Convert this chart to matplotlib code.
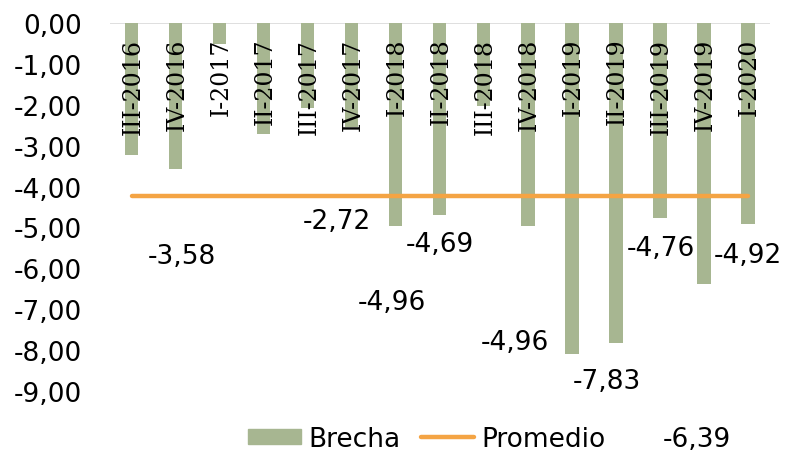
import numpy as np
import matplotlib.pyplot as plt
from matplotlib.patches import Patch
from matplotlib.lines import Line2D

categories = ['III-2016', 'IV-2016', 'I-2017', 'II-2017', 'III-2017', 'IV-2017',
              'I-2018', 'II-2018', 'III-2018', 'IV-2018', 'I-2019', 'II-2019',
              'III-2019', 'IV-2019', 'I-2020']
brecha = [-3.22, -3.58, -0.51, -2.72, -2.09, -2.55, -4.96, -4.69, -2.02,
          -4.96, -8.09, -7.83, -4.76, -6.39, -4.92]

# data labels as Excel left them: (bar index, x position, y position)
label_bars = [1, 3, 6, 7, 9, 11, 12, 14, 13]
label_x = [1.14, 4.67, 5.92, 7.0, 8.71, 10.8, 12.02, 14.0, 12.84]
label_y = [-5.69, -4.83, -6.82, -5.40, -7.81, -8.75, -5.51, -5.67, -10.17]

bar_color = '#a7b691'
line_color = '#f4a444'

fig = plt.figure(figsize=(7.86, 4.52), dpi=100)
ax = fig.add_axes([0.1397, 0.1327, 0.8399, 0.8142])

x = np.arange(len(categories))
promedio = np.mean(brecha)

ax.bar(x, brecha, width=0.30, color=bar_color, zorder=2)
ax.plot(x, [promedio] * len(x), color=line_color, lw=3.2,
        solid_capstyle='round', zorder=3)
ax.axhline(0, color='#d9d9d9', lw=1.2, zorder=1)

ax.set_xlim(-0.5, len(categories) - 0.5)
ax.set_ylim(-9, 0)
ax.set_yticks(np.arange(0, -10, -1))
ax.set_yticklabels([f'{v:.2f}'.replace('.', ',') for v in np.arange(0, -10, -1)])
ax.tick_params(axis='y', length=0, pad=20, labelsize=19)
ax.set_xticks([])
for s in ax.spines.values():
    s.set_visible(False)

for i, cat in enumerate(categories):
    ax.text(i + 0.03, -0.36, cat, rotation=90, ha='center', va='top',
            family='DejaVu Serif', fontsize=17, zorder=4)

for b, lx, ly in zip(label_bars, label_x, label_y):
    ax.text(lx, ly, f'{brecha[b]:.2f}'.replace('.', ','), ha='center',
            va='center', fontsize=19, clip_on=False, zorder=4)

handles = [Patch(color=bar_color, label='Brecha'),
           Line2D([], [], color=line_color, lw=3.2, solid_capstyle='round',
                  label='Promedio')]
fig.legend(handles=handles, loc='center', bbox_to_anchor=(0.543, 0.027),
           ncol=2, frameon=False, fontsize=19, handlelength=2.0,
           handleheight=0.55, handletextpad=0.28, columnspacing=0.8,
           borderaxespad=0)

plt.savefig('out.png', dpi=100)
